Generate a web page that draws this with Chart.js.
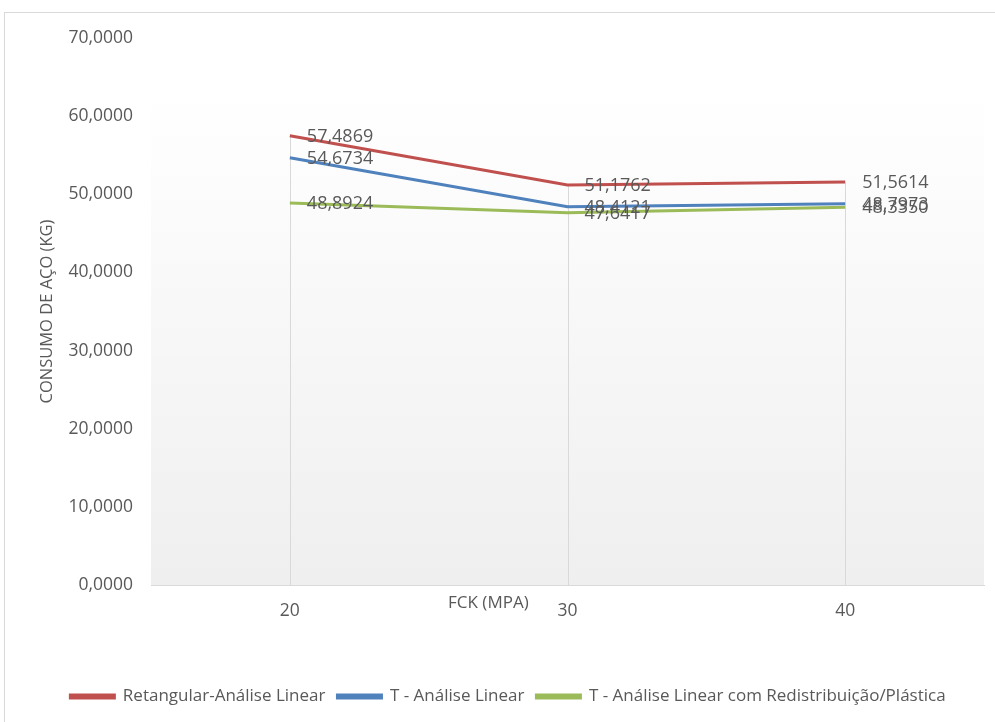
<!DOCTYPE html>
<html>
<head>
<meta charset="utf-8">
<script src="https://cdn.jsdelivr.net/npm/chart.js@4/dist/chart.umd.min.js"></script>
<style>
  html, body { margin: 0; padding: 0; background: #ffffff; }
  #wrap { width: 995px; height: 722px; position: relative; }
</style>
</head>
<body>
<div id="wrap"><canvas id="c" width="995" height="722"></canvas></div>
<script>
// Steel consumption (kg) by concrete strength fck (MPa)
const categories = ['20', '30', '40'];
const retangularLinear = [57.4869, 51.1762, 51.5614];
const tLinear = [54.6734, 48.4121, 48.7973];
const tRedistribuicao = [48.8924, 47.6417, 48.3350];
const seriesNames = [
  'Retangular-Análise Linear',
  'T - Análise Linear',
  'T - Análise Linear com Redistribuição/Plástica'
];
const seriesColors = ['#C0504D', '#4F81BD', '#9BBB59'];
const yMin = 0, yMax = 70, yStep = 10;

const FONT = '"Open Sans", "DejaVu Sans", sans-serif';
const TEXT = '#595959';

function fmt(v, d) {
  return v.toFixed(d).replace('.', ',');
}

// Outer frame and gradient fill of the plot area
const backgroundPlugin = {
  id: 'frameAndPlotFill',
  beforeDraw(chart) {
    const { ctx, chartArea: a } = chart;
    ctx.save();
    ctx.strokeStyle = '#d9d9d9';
    ctx.lineWidth = 1;
    ctx.strokeRect(4.5, 12.5, chart.width + 10, chart.height + 10);
    const g = ctx.createLinearGradient(0, a.top, 0, a.bottom);
    g.addColorStop(0, '#ffffff');
    g.addColorStop(0.1, '#ffffff');
    g.addColorStop(1, '#efefef');
    ctx.fillStyle = g;
    ctx.fillRect(a.left, a.top, a.right - a.left, a.bottom - a.top);
    ctx.restore();
  }
};

// Drop lines from the highest point of each category down to the axis
const dropLinesPlugin = {
  id: 'dropLines',
  beforeDatasetsDraw(chart) {
    const { ctx, scales: { x, y } } = chart;
    ctx.save();
    ctx.strokeStyle = '#d9d9d9';
    ctx.lineWidth = 1;
    categories.forEach((c, i) => {
      const vals = chart.data.datasets.map(ds => ds.data[i]);
      const top = y.getPixelForValue(Math.max(...vals));
      const px = Math.round(x.getPixelForValue(i)) + 0.5;
      ctx.beginPath();
      ctx.moveTo(px, top);
      ctx.lineTo(px, y.getPixelForValue(yMin));
      ctx.stroke();
    });
    ctx.restore();
  }
};

// Value labels to the right of each point, plus the x-axis title
const labelsPlugin = {
  id: 'valueLabels',
  afterDatasetsDraw(chart) {
    const { ctx, chartArea: a } = chart;
    ctx.save();
    ctx.fillStyle = TEXT;
    ctx.font = '18px ' + FONT;
    ctx.textAlign = 'left';
    ctx.textBaseline = 'middle';
    chart.data.datasets.forEach((ds, di) => {
      const meta = chart.getDatasetMeta(di);
      meta.data.forEach((pt, i) => {
        ctx.fillText(fmt(ds.data[i], 4), pt.x + 17, pt.y + 1);
      });
    });
    ctx.font = '17px ' + FONT;
    ctx.textAlign = 'center';
    ctx.fillText('FCK (MPA)', a.left + (a.right - a.left) * 0.405, a.bottom + 18);
    ctx.restore();
  }
};

const datasets = [retangularLinear, tLinear, tRedistribuicao].map((d, i) => ({
  label: seriesNames[i],
  data: d,
  borderColor: seriesColors[i],
  backgroundColor: seriesColors[i],
  borderWidth: 3,
  pointRadius: 0,
  pointHoverRadius: 0,
  tension: 0,
  fill: false
}));

new Chart(document.getElementById('c'), {
  type: 'line',
  data: { labels: categories, datasets },
  plugins: [backgroundPlugin, dropLinesPlugin, labelsPlugin],
  options: {
    responsive: false,
    animation: false,
    devicePixelRatio: 1,
    layout: { padding: { left: 32, right: 11, top: 38, bottom: 7 } },
    plugins: {
      tooltip: { enabled: false },
      legend: {
        position: 'bottom',
        labels: {
          font: { family: FONT, size: 17 },
          color: TEXT,
          boxWidth: 44,
          boxHeight: 3,
          padding: 12
        }
      }
    },
    scales: {
      x: {
        offset: true,
        grid: { display: false, drawTicks: false },
        border: { display: true, color: '#d9d9d9', width: 1 },
        ticks: {
          font: { family: FONT, size: 17.5 },
          color: TEXT,
          padding: 16,
          maxRotation: 0
        },
        afterFit(scale) { scale.height = 91; }
      },
      y: {
        min: yMin,
        max: yMax,
        grid: { display: false, drawTicks: false },
        border: { display: false },
        ticks: {
          stepSize: yStep,
          font: { family: FONT, size: 17.5 },
          color: TEXT,
          padding: 18,
          callback: v => fmt(v, 4)
        },
        title: {
          display: true,
          text: 'CONSUMO DE AÇO (KG)',
          font: { family: FONT, size: 16.5 },
          color: TEXT,
          padding: { top: 5, bottom: 0 }
        },
        afterFit(scale) { scale.width = 119; }
      }
    }
  }
});
</script>
</body>
</html>
